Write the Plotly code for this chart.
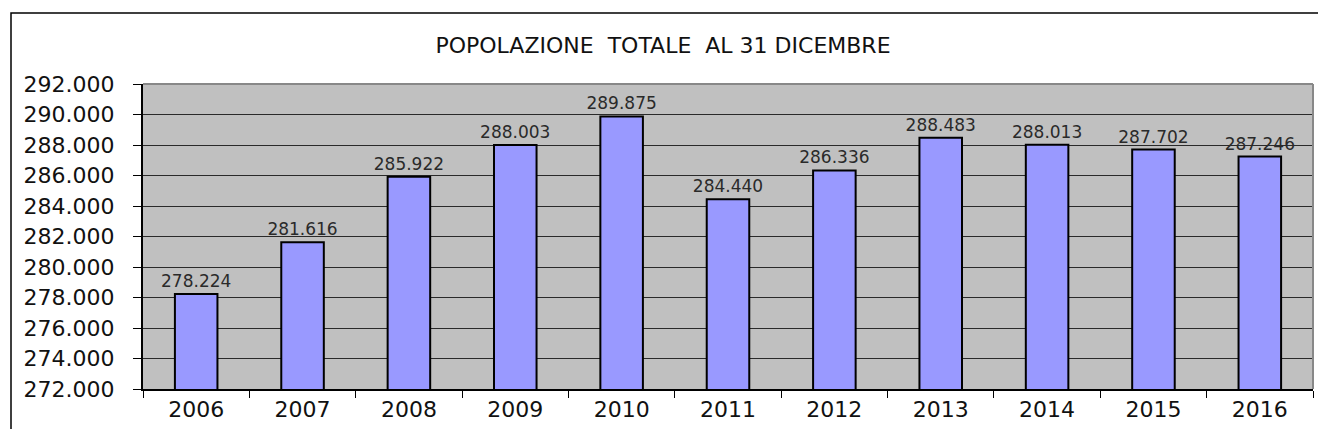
import plotly.graph_objects as go

years = ["2006", "2007", "2008", "2009", "2010", "2011", "2012", "2013", "2014", "2015", "2016"]
population = [278224, 281616, 285922, 288003, 289875, 284440, 286336, 288483, 288013, 287702, 287246]
title_text = "POPOLAZIONE\u00a0 TOTALE\u00a0 AL 31 DICEMBRE"

FONT = "DejaVu Sans"
OFF = 8  # page body margin
W, H = 1328 - 2 * OFF, 443 - 2 * OFF - 6
PL, PR, PT, PB = 143 - OFF, 1313 - OFF, 84 - OFF, 389 - OFF
PW, PH = PR - PL, PB - PT

fig = go.Figure(
    go.Bar(
        x=years,
        y=population,
        marker=dict(color="#9999ff", line=dict(color="black", width=2)),
        width=0.4,
        text=population,
        texttemplate="%{y:,}",
        textposition="outside",
        constraintext="none",
        textfont=dict(family=FONT, size=17, color="#2a2a2a"),
        cliponaxis=False,
    )
)

fx = lambda px: (px - OFF - PL) / PW
fy = lambda py: 1 - (py - OFF - PT) / PH

fig.update_layout(
    width=W,
    height=H,
    margin=dict(l=PL, r=W - PR, t=PT, b=H - PB),
    separators=",.",
    paper_bgcolor="white",
    plot_bgcolor="#c0c0c0",
    showlegend=False,
    title=dict(
        text=title_text,
        x=(663 - OFF) / W,
        xref="container",
        xanchor="center",
        y=1 - (45 - OFF) / H,
        yref="container",
        yanchor="middle",
        font=dict(family=FONT, size=22, color="#111111"),
    ),
    xaxis=dict(
        type="category",
        ticks="outside",
        tickson="boundaries",
        ticklen=7,
        tickcolor="black",
        tickwidth=1,
        showline=True,
        linecolor="black",
        linewidth=2,
        showgrid=False,
        tickfont=dict(family=FONT, size=22, color="#111111"),
    ),
    yaxis=dict(
        range=[272000, 292000],
        dtick=2000,
        tickformat=",",
        ticks="outside",
        ticklen=8,
        tickcolor="black",
        tickwidth=1,
        ticklabelstandoff=14,
        showline=True,
        linecolor="black",
        linewidth=2,
        showgrid=True,
        gridcolor="#2a2a2a",
        gridwidth=1,
        zeroline=False,
        tickfont=dict(family=FONT, size=22, color="#111111"),
    ),
    shapes=[
        # outer chart frame: left side + top side as one open path
        dict(type="path", xref="paper", yref="paper",
             path=f"M {fx(11)},{fy(460)} L {fx(11)},{fy(13)} L {fx(1318)},{fy(13)}",
             line=dict(color="black", width=1.5)),
        dict(type="line", xref="paper", yref="paper", x0=0, x1=1, y0=1, y1=1,
             line=dict(color="#888888", width=2)),
        dict(type="line", xref="paper", yref="paper", x0=1, x1=1, y0=0, y1=1,
             line=dict(color="#888888", width=2)),
    ],
)

fig.write_html("out.html", config={"displayModeBar": False})
